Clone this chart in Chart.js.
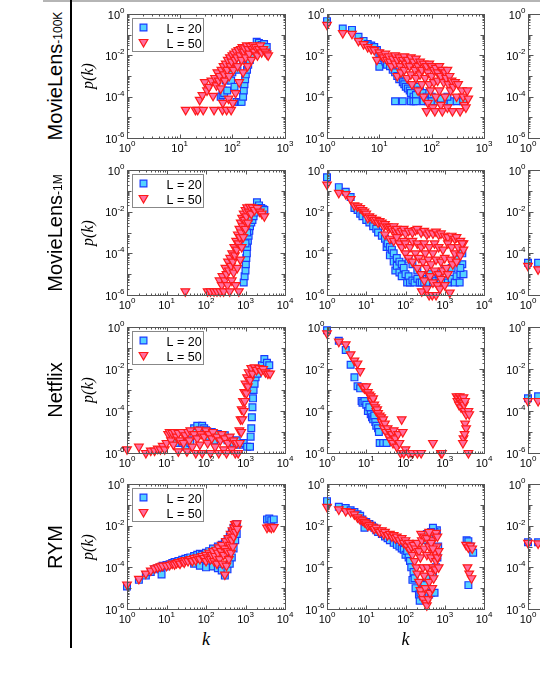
<!DOCTYPE html>
<html>
<head>
<meta charset="utf-8">
<script src="https://cdn.jsdelivr.net/npm/chart.js@4.4.1/dist/chart.umd.min.js"></script>
<style>
  html, body { margin: 0; padding: 0; background: #fff; }
  #fig { position: relative; width: 540px; height: 699px; overflow: hidden; }
  .rot { position: absolute; white-space: nowrap; line-height: 1; transform: translate(-50%, -50%) rotate(-90deg); }
  .row-name { font-family: Arial, "Liberation Sans", sans-serif; font-size: 20px; color: #000; }
  .row-name small { font-size: 12px; }
  .axis-title { font-family: "Times New Roman", "Liberation Serif", serif; font-style: italic; font-size: 16px; color: #000; }
</style>
</head>
<body>
<div id="fig"></div>
<script>
// Degree distributions p(k) for L = 20 and L = 50 as [k, p(k)]

// tick labels (powers of ten)
const xTickExps3 = [0, 1, 2, 3];
const xTickExps4 = [0, 1, 2, 3, 4];
const yTickExps = [0, -2, -4, -6];

const rowNames = [['MovieLens', '-100K'], ['MovieLens', '-1M'], ['Netflix', ''], ['RYM', '']];
const legendLabels = ['L = 20', 'L = 50'];

// MovieLens-100K
const ml100kUserL20 = [[60,1e-4],[65,1.2e-4],[66,2e-4],[70,1.5e-4],[75,6e-4],[80,2e-4],[85,1e-3],[90,1.5e-3],[95,6e-4],[100,1.5e-3],[105,5e-3],[110,3e-4],[120,8e-3],[120,5.6e-5],[125,2e-3],[135,5.6e-5],[140,1e-2],[145,5.6e-5],[150,5.6e-5],[160,1e-4],[160,6e-3],[165,2e-4],[170,4e-4],[175,7e-4],[180,1.2e-3],[180,1.5e-2],[190,2e-3],[200,3.5e-3],[200,2e-2],[215,6e-3],[230,1e-2],[250,1.6e-2],[270,2.5e-2],[290,4.5e-2],[320,4e-2],[360,3.2e-2],[400,3.5e-2],[450,2.5e-2]];
const ml100kUserL50 = [[13,2.3e-5],[20,2.3e-5],[22,2.3e-5],[24,7e-5],[27,1.2e-4],[28,2.3e-5],[30,5e-4],[33,2e-4],[36,3e-4],[40,6e-4],[43,1.1e-4],[45,2.3e-5],[47,8e-4],[50,3.5e-4],[52,1.5e-3],[55,6e-4],[58,1e-3],[60,2.5e-4],[62,2e-3],[65,2.3e-5],[66,5e-5],[68,3e-3],[70,1.2e-3],[72,6e-4],[75,4e-3],[78,2.3e-5],[80,2e-3],[82,6e-3],[85,8e-5],[87,1e-3],[90,8e-3],[92,3e-3],[95,2.3e-5],[97,5e-3],[100,1e-2],[102,5e-5],[105,2e-3],[108,1.2e-2],[112,6e-3],[115,1.5e-4],[118,1.5e-2],[122,8e-3],[126,3e-3],[130,1.8e-2],[135,5e-4],[140,1e-2],[145,2e-2],[150,6e-3],[155,2.5e-2],[160,1.5e-3],[165,1.5e-2],[172,2.2e-2],[180,8e-3],[188,3e-2],[195,3e-3],[200,2e-2],[210,1.2e-2],[220,2.8e-2],[230,6e-3],[240,2e-2],[250,3e-2],[265,1.5e-2],[280,2.5e-2],[300,1e-2],[320,2e-2],[340,3e-2],[360,1.4e-2],[390,2e-2],[420,1.5e-2],[450,1.2e-2],[480,1e-2]];
const ml100kItemL20 = [[1,0.45],[2,0.2],[3,0.17],[4,0.08],[5,0.05],[6,0.035],[7,0.03],[8,0.025],[9,0.018],[10,0.0028],[10,0.012],[11,0.009],[12,0.007],[13,0.005],[14,0.0035],[15,0.006],[16,0.003],[18,0.002],[20,0.0015],[22,0.001],[24,0.0007],[26,0.0012],[28,0.0005],[30,0.0004],[32,0.0003],[35,0.00025],[38,0.0002],[40,0.00015],[45,0.0001],[50,0.00012],[55,0.0003],[60,0.0002],[70,0.00015],[80,0.0001],[90,0.00015],[100,0.0001],[20,6e-5],[28,6e-5],[40,6e-5],[45,6e-5],[50,6e-5],[70,6e-5],[85,6e-5],[100,6e-5],[130,6e-5],[170,6e-5],[230,6e-5],[300,6e-5],[400,6e-5],[150,8e-5],[200,1e-4]];
const ml100kItemL50 = [[1,0.3],[2,0.12],[3,0.11],[4,0.05],[5,0.035],[6,0.025],[7,0.02],[8,0.018],[9,0.006],[10,0.014],[11,0.01],[12,0.008],[13,0.012],[14,0.006],[15,0.009],[16,0.005],[17,0.003],[18,0.007],[20,0.01],[20,0.004],[22,0.006],[22,0.001],[24,0.008],[25,0.003],[26,0.0015],[28,0.006],[30,0.009],[30,0.002],[32,0.004],[34,0.0008],[35,0.006],[38,0.003],[40,0.008],[40,0.0012],[42,0.0004],[45,0.005],[48,0.002],[50,0.0008],[50,0.007],[55,0.003],[55,0.0002],[60,0.005],[60,0.0012],[65,0.0004],[65,0.002],[70,0.004],[70,0.0001],[75,0.0008],[80,0.003],[80,2e-5],[85,0.0015],[85,5e-5],[90,0.004],[90,0.0004],[95,0.0002],[100,0.003],[100,0.001],[105,3e-5],[110,0.002],[110,0.0005],[115,2e-5],[120,0.0025],[120,0.0001],[130,0.0015],[130,0.0006],[140,0.003],[140,0.0002],[150,0.001],[150,4e-5],[160,0.002],[160,2e-5],[170,0.0005],[180,0.0015],[180,0.0001],[190,0.0008],[200,0.002],[200,3e-5],[210,0.0004],[220,0.001],[230,0.0002],[240,0.0006],[250,2e-5],[260,0.0003],[280,0.0005],[300,0.0001],[320,0.0004],[350,2e-5],[380,0.0002],[400,0.0001],[420,4e-5],[450,3e-5],[480,0.0002],[500,8e-5]];
const ml100kThirdL20 = [];
const ml100kThirdL50 = [];

// MovieLens-1M
const ml1mUserL20 = [[900,4e-6],[950,8e-6],[1000,1.5e-5],[1020,3e-5],[1050,6e-5],[1080,1e-4],[1100,2e-4],[1150,4e-4],[1200,7e-4],[1250,1.2e-3],[1300,2e-3],[1400,3e-3],[1500,4e-3],[1600,6e-3],[1700,9e-3],[1800,1.4e-2],[1950,2.8e-2],[2200,2e-2],[2500,1.5e-2],[2800,1.3e-2],[3000,1.2e-2],[1000,3e-4],[1100,1e-3],[1200,5e-3],[1000,2e-3]];
const ml1mUserL50 = [[30,1.5e-6],[110,1.5e-6],[130,1.5e-6],[160,1.5e-6],[190,1.5e-6],[220,5e-6],[230,1.5e-6],[250,3e-6],[260,8e-6],[280,1.5e-6],[300,5e-6],[310,2e-5],[330,1e-5],[350,3e-6],[360,4e-5],[380,1.5e-5],[400,1.5e-6],[410,6e-5],[430,2.5e-5],[450,5e-6],[460,1e-4],[480,4e-5],[500,1.2e-5],[520,2e-4],[540,8e-5],[560,3e-6],[580,4e-4],[600,1.5e-4],[620,2e-5],[640,8e-4],[660,3e-4],[680,1.5e-6],[700,1.5e-3],[720,6e-4],[740,5e-5],[760,3e-3],[780,1e-3],[800,2e-4],[820,5e-3],[850,2e-3],[880,6e-4],[900,8e-3],[950,4e-3],[1000,1.2e-2],[1000,1.5e-3],[1050,6e-3],[1100,1.6e-2],[1150,3e-3],[1200,1e-2],[1300,1.7e-2],[1400,8e-3],[1500,1.6e-2],[1700,1.2e-2],[2000,1.5e-2],[2300,1e-2],[2600,8e-3],[3000,6e-3]];
const ml1mItemL20 = [[1,0.45],[2,0.15],[3,0.09],[4,0.05],[5,0.015],[6,0.012],[7,0.008],[8,0.006],[10,0.004],[12,0.003],[15,0.002],[18,0.0015],[20,0.001],[25,0.0007],[30,0.0005],[33,0.0002],[35,0.0003],[40,0.0002],[40,8e-5],[45,0.00015],[50,0.0001],[50,4e-5],[55,1.5e-5],[60,6e-5],[60,2.5e-5],[70,4e-5],[70,1.2e-5],[80,3e-5],[80,8e-6],[90,2e-5],[100,1e-5],[110,4e-6],[120,8e-6],[130,4e-6],[150,5e-6],[170,4e-6],[200,6e-6],[230,4e-6],[260,4e-6],[300,4e-6],[350,6e-6],[400,4e-6],[500,4e-6],[600,5e-6],[700,4e-6],[800,4e-6],[1000,5e-6],[1200,4e-6],[1500,6e-6],[1800,4e-6],[2000,8e-6],[2400,4e-6],[2500,1e-5],[2800,3e-5],[3000,1e-5],[2800,1e-4],[2500,2e-5],[2000,5e-5],[1500,2e-5],[1000,1.5e-5],[700,1e-5],[400,1e-5],[200,1.5e-5],[150,3e-5],[120,5e-5]];
const ml1mItemL50 = [[1,0.2],[2,0.08],[3,0.07],[4,0.04],[5,0.02],[6,0.018],[7,0.015],[8,0.012],[9,0.01],[10,0.008],[11,0.005],[12,0.006],[14,0.005],[16,0.004],[18,0.004],[20,0.003],[22,0.0035],[25,0.003],[28,0.002],[30,0.0025],[35,0.002],[40,0.0018],[45,0.0015],[50,0.002],[55,0.0012],[60,0.0015],[70,0.001],[80,0.0012],[90,0.0015],[100,0.0009],[120,0.0012],[150,0.001],[180,0.0013],[200,0.0015],[250,0.001],[300,0.0012],[350,0.0008],[400,0.001],[500,0.0009],[600,0.0011],[700,0.0008],[800,0.0009],[1000,0.0007],[1200,0.0006],[1500,0.0007],[1800,0.0005],[2000,0.0006],[2500,0.0004],[3000,0.0003],[30,0.0008],[40,0.0005],[50,0.0004],[60,0.0006],[70,0.0003],[80,0.0002],[90,0.0004],[100,0.0003],[100,0.0001],[120,6e-5],[130,0.0002],[150,0.0004],[150,4e-5],[180,0.0001],[200,2e-5],[200,0.0003],[220,6e-5],[250,1e-5],[260,1.5e-6],[250,0.0002],[280,4e-5],[300,5e-6],[300,0.0003],[320,1e-4],[350,2e-6],[350,2e-5],[380,5e-5],[400,1e-6],[400,0.0002],[420,8e-6],[450,3e-5],[480,1e-6],[500,1e-4],[500,4e-6],[550,0.0003],[550,1.5e-5],[600,1e-6],[600,5e-5],[650,3e-6],[700,0.0002],[700,1e-5],[750,2e-6],[800,4e-5],[800,6e-6],[900,1.5e-4],[900,1.5e-5],[1000,3e-6],[1000,6e-5],[1100,2e-5],[1200,0.0003],[1200,1e-5],[1350,1.3e-6],[1400,5e-5],[1500,0.0002],[1600,3e-5],[1800,0.0001],[2000,4e-5],[2200,0.0002],[2500,8e-5],[2800,0.0003],[3000,0.00015]];
const ml1mThirdL20 = [[1,3.5e-5],[1.8,3.5e-5]];
const ml1mThirdL50 = [[1,2.5e-5],[1.8,1.7e-5]];

// Netflix
const netflixUserL20 = [[18,3e-6],[25,3e-6],[30,2e-6],[35,4e-6],[40,3e-6],[50,1.5e-5],[55,1e-5],[60,2e-5],[70,1.2e-5],[80,2e-5],[90,1.5e-5],[100,1.2e-5],[120,6e-6],[140,1e-5],[160,4e-6],[200,8e-6],[250,5e-6],[300,7e-6],[350,4e-6],[400,5e-6],[500,3e-6],[600,4e-6],[700,2.5e-6],[900,3e-6],[1100,2e-6],[1300,2e-6],[1350,6e-6],[1400,1.5e-5],[1450,5e-5],[1500,1.5e-4],[1550,4e-4],[1600,1e-3],[1700,2e-3],[1800,4e-3],[2000,6e-3],[2300,1e-2],[2600,1.5e-2],[3000,3e-2],[3500,2e-2],[4000,1.5e-2]];
const netflixUserL50 = [[1,1.5e-6],[2,2e-6],[3,1e-6],[4,1.3e-6],[5,1.3e-6],[6,1.6e-6],[7,1.5e-6],[8,2.2e-6],[9,1.5e-6],[10,3e-6],[11,8e-6],[12,1e-5],[13,4e-6],[14,9e-6],[15,2.5e-6],[16,1e-5],[18,6e-6],[20,1.2e-6],[20,9e-6],[22,4e-6],[25,1e-5],[27,3e-6],[30,7e-6],[33,1.2e-6],[35,1e-5],[38,4e-6],[40,1.2e-5],[45,2e-6],[50,8e-6],[55,1e-6],[60,5e-6],[65,1.3e-5],[70,2.5e-6],[75,8e-6],[80,1e-6],[90,6e-6],[100,1.2e-5],[110,3e-6],[120,8e-6],[130,1e-6],[140,5e-6],[150,1e-5],[170,2e-6],[190,6e-6],[210,1e-6],[230,4e-6],[250,8e-6],[280,1.5e-6],[300,5e-6],[330,1e-6],[360,3e-6],[400,6e-6],[450,1.5e-6],[500,4e-6],[550,1e-6],[600,3e-6],[650,1e-6],[700,1.2e-5],[720,3e-6],[750,4e-5],[780,1e-5],[800,1.2e-4],[830,4e-5],[860,3e-4],[900,1e-4],[930,8e-4],[960,3e-4],[1000,2e-3],[1050,7e-4],[1100,4e-3],[1150,1.5e-3],[1200,7e-3],[1300,3e-3],[1400,1.1e-2],[1500,6e-3],[1700,1.2e-2],[1900,9e-3],[2200,1.1e-2],[2500,8e-3],[2800,1e-2],[3200,7e-3],[3700,6e-3],[4200,6e-3]];
const netflixItemL20 = [[1,0.7],[2,0.22],[3,0.08],[4,0.016],[5,0.004],[6,0.0015],[7,0.0012],[7.6,0.0003],[8,0.00025],[9,0.0003],[10,0.0002],[11,0.0001],[12,0.00015],[13,7e-5],[14,5e-5],[15,4e-5],[16,6e-5],[17,3e-5],[18,2e-5],[20,1.5e-5],[21,1e-5],[22,3e-6],[27,3e-6],[33,3e-6]];
const netflixItemL50 = [[1,0.5],[2,0.2],[3,0.15],[4,0.05],[5,0.025],[6,0.018],[7,0.008],[8,0.0015],[9,0.0012],[10,0.0015],[11,0.0008],[12,0.0006],[13,0.0005],[14,0.0003],[15,0.0004],[16,0.0002],[17,0.00015],[18,0.0001],[19,0.00012],[20,8e-5],[22,6e-5],[24,5e-5],[25,3e-5],[27,4e-5],[28,1.5e-5],[30,2.5e-5],[32,1e-5],[35,1.5e-5],[38,6e-6],[40,1e-5],[42,4e-6],[45,8e-6],[48,3e-6],[50,1.2e-5],[55,5e-6],[60,2e-6],[65,8e-6],[70,3e-6],[75,1e-6],[80,4e-5],[85,1e-5],[90,1e-6],[100,1.5e-6],[120,1e-6],[150,1e-6],[200,1e-6],[250,1e-6],[500,3e-6],[800,1e-6],[850,1e-6],[2000,5e-4],[2100,3e-4],[2200,4e-4],[2300,2e-4],[2400,5e-4],[2500,3e-4],[2600,1.5e-4],[2700,4e-4],[2800,2.5e-4],[3000,4.5e-4],[3100,2e-4],[3200,1e-4],[3300,3e-4],[3500,7e-5],[4000,1e-4],[4200,7e-5],[3300,2.5e-5],[3500,1.5e-5],[3000,5e-6],[2900,3e-6],[3200,8e-6],[4000,1e-6]];
const netflixThirdL20 = [[1,4e-4],[1.8,5e-4]];
const netflixThirdL50 = [[1,3e-4],[1.8,3e-4]];

// RYM
const rymUserL20 = [[1,1.2e-5],[2,2.5e-5],[3,4e-5],[4,6e-5],[5,8e-5],[6,9e-5],[7,1e-4],[7.5,4.5e-5],[8,1.2e-4],[9,1.1e-4],[10,1.3e-4],[12,1.4e-4],[14,1.6e-4],[16,1.8e-4],[18,1.7e-4],[20,2e-4],[25,2.3e-4],[30,2.6e-4],[35,2.8e-4],[40,3e-4],[50,3.5e-4],[60,4e-4],[70,4.5e-4],[80,4e-4],[100,5e-4],[120,6e-4],[150,8e-4],[200,1e-3],[250,1.2e-3],[300,1.5e-3],[350,2e-3],[400,3e-3],[450,5e-3],[500,8e-3],[550,1e-2],[600,1.2e-2],[50,1.5e-4],[70,1.2e-4],[100,1e-4],[150,1.1e-4],[200,9e-5],[250,7e-5],[300,4e-5],[350,8e-5],[400,1.5e-4],[450,3e-4],[500,8e-4],[550,2e-3],[600,4e-3],[3500,2e-2],[4000,2.2e-2],[4500,1.8e-2],[5200,2e-2]];
const rymUserL50 = [[1,1.5e-5],[2,2.8e-5],[3,5e-5],[4,7e-5],[5,9e-5],[6,1e-4],[7,1.1e-4],[8,1.2e-4],[10,1.2e-4],[12,1.3e-4],[14,1.5e-4],[16,1.4e-4],[18,1.6e-4],[20,1.8e-4],[22,1.5e-4],[25,2e-4],[28,1.7e-4],[30,2.2e-4],[35,2e-4],[40,2.5e-4],[45,2e-4],[50,2.8e-4],[55,2.2e-4],[60,3e-4],[70,2.5e-4],[80,3.5e-4],[90,2.8e-4],[100,4e-4],[100,2e-4],[110,3e-4],[120,5e-4],[130,2.5e-4],[140,4e-4],[150,6e-4],[160,2e-4],[170,3.5e-4],[180,7e-4],[190,1.5e-4],[200,5e-4],[210,9e-4],[220,2.5e-4],[240,6e-4],[250,1.2e-3],[260,1.5e-4],[280,4e-4],[300,8e-4],[300,4.5e-5],[320,1.8e-3],[330,1.2e-4],[350,6e-4],[370,2.5e-3],[380,2.5e-4],[400,1.2e-3],[420,4e-3],[430,5e-4],[450,2e-3],[470,6e-3],[480,1e-3],[500,3e-3],[520,8e-3],[540,1.2e-2],[560,5e-3],[580,1e-2],[600,1.3e-2],[620,7e-3],[3500,8e-3],[4000,9e-3],[4500,8e-3],[5200,8.5e-3]];
const rymItemL20 = [[1,0.15],[2,0.08],[3,0.07],[4,0.055],[5,0.045],[6,0.035],[7,0.03],[8,0.02],[9,0.008],[10,0.015],[12,0.012],[14,0.01],[16,0.008],[18,0.006],[20,0.005],[25,0.004],[30,0.003],[35,0.0025],[40,0.002],[50,0.0015],[60,0.0012],[70,0.001],[80,0.0008],[90,0.0007],[100,0.0004],[110,0.0006],[120,0.0003],[130,0.0002],[140,0.0001],[150,2.5e-5],[160,6e-5],[170,3e-5],[180,1e-5],[230,2.5e-6],[220,5e-6],[240,6e-6],[260,8e-6],[280,4e-6],[300,1.5e-5],[350,3e-5],[400,5e-6],[450,6e-6],[500,4e-5],[550,6e-6],[600,1e-4],[650,3e-4],[680,1e-3],[630,6e-3],[550,5e-3],[500,8e-3],[450,5e-3],[400,3e-3],[350,4e-3],[300,2e-3],[3600,2e-3],[4000,1.8e-3],[4500,1e-3],[5300,5e-4],[4000,1.4e-5]];
const rymItemL50 = [[1,0.08],[2,0.06],[3,0.05],[4,0.045],[5,0.035],[6,0.025],[7,0.02],[8,0.018],[9,0.015],[10,0.013],[11,0.01],[12,0.011],[14,0.009],[16,0.007],[18,0.008],[20,0.006],[22,0.005],[25,0.006],[28,0.004],[30,0.005],[35,0.0035],[40,0.004],[45,0.003],[50,0.0035],[55,0.0025],[60,0.003],[70,0.002],[80,0.0025],[90,0.0015],[100,0.002],[110,0.001],[120,0.0015],[130,0.0007],[140,0.001],[150,0.0004],[160,0.0012],[170,0.0002],[180,0.0008],[190,0.0001],[200,0.0015],[200,5e-5],[220,0.0006],[220,2e-5],[240,0.0003],[240,8e-6],[260,0.002],[260,5e-6],[280,0.0001],[280,3e-6],[300,0.0008],[300,4e-5],[320,1e-5],[340,2e-6],[350,0.0004],[350,1.5e-6],[360,1e-4],[380,3e-6],[400,0.001],[400,2e-5],[420,6e-6],[450,0.0003],[450,5e-5],[480,1e-5],[500,0.002],[500,0.0001],[520,3e-5],[550,0.004],[550,0.0005],[580,8e-5],[600,0.0045],[600,0.0002],[620,0.001],[650,0.0003],[650,0.003],[700,0.0006],[700,0.0001],[250,0.004],[300,0.003],[350,0.0025],[400,0.005],[450,0.0015],[500,0.0008],[3500,1.2e-3],[4000,9e-4],[4500,1.1e-3],[5000,8e-4],[3800,1e-4],[4200,5e-5],[4800,3e-5]];
const rymThirdL20 = [[1,1.6e-3],[1.8,1.6e-3]];
const rymThirdL50 = [[1,1.5e-3],[1.8,1.4e-3]];

// marker colours
const BLUE_LINE = '#1a3cff';
const BLUE_FILL = '#55d2ff';
const RED_LINE = '#ff1a1a';
const RED_FILL = '#ff6fa0';
const FRAME = '#555';

const fig = document.getElementById('fig');
const toXY = arr => arr.map(([x, y]) => ({ x, y }));

// draws 10^exp label; align = 'right' or 'center'
function drawPow(ctx, exp, x, y, align) {
    ctx.font = '11px Arial, "Liberation Sans", sans-serif';
    const wBase = ctx.measureText('10').width;
    ctx.font = '8px Arial, "Liberation Sans", sans-serif';
    const expText = String(exp);
    const wExp = ctx.measureText(expText).width;
    const total = wBase + wExp;
    const x0 = align === 'right' ? x - total : x - total / 2;
    ctx.textAlign = 'left';
    ctx.textBaseline = 'alphabetic';
    ctx.font = '11px Arial, "Liberation Sans", sans-serif';
    ctx.fillText('10', x0, y);
    ctx.font = '8px Arial, "Liberation Sans", sans-serif';
    ctx.fillText(expText, x0 + wBase, y - 5.5);
}

function drawSquare(ctx, x, y, half) {
    ctx.beginPath();
    ctx.rect(x - half, y - half, 2 * half, 2 * half);
    ctx.fillStyle = BLUE_FILL; ctx.fill();
    ctx.strokeStyle = BLUE_LINE; ctx.lineWidth = 1.2; ctx.stroke();
}

function drawTriangle(ctx, x, y, r) {
    ctx.beginPath();
    ctx.moveTo(x, y + r);
    ctx.lineTo(x - r * 0.866, y - r / 2);
    ctx.lineTo(x + r * 0.866, y - r / 2);
    ctx.closePath();
    ctx.fillStyle = RED_FILL; ctx.fill();
    ctx.strokeStyle = RED_LINE; ctx.lineWidth = 1.2; ctx.stroke();
}

// frame, inward ticks on all four sides, power-of-ten labels and legend
const framePlugin = {
    id: 'frame',
    afterDatasetsDraw(chart, args, opts) {
        const { ctx, chartArea: a, scales: { x, y } } = chart;
        ctx.save();
        ctx.strokeStyle = FRAME;
        ctx.lineWidth = 1;
        const L = Math.round(a.left) + 0.5, R = Math.round(a.right) + 0.5;
        const T = Math.round(a.top) + 0.5, B = Math.round(a.bottom) + 0.5;
        ctx.strokeRect(L, T, R - L, B - T);

        const seg = (x1, y1, x2, y2) => { ctx.beginPath(); ctx.moveTo(x1, y1); ctx.lineTo(x2, y2); ctx.stroke(); };

        // x ticks
        const xMaxExp = Math.round(Math.log10(x.max));
        for (let e = 0; e <= xMaxExp; e++) {
            for (let m = 1; m < 10; m++) {
                const v = m * Math.pow(10, e);
                if (v > x.max) break;
                const px = Math.round(x.getPixelForValue(v)) + 0.5;
                const len = m === 1 ? 4 : 2;
                seg(px, B, px, B - len);
                seg(px, T, px, T + len);
            }
        }
        // y ticks
        for (let e = -6; e <= 0; e++) {
            for (let m = 1; m < 10; m++) {
                const v = m * Math.pow(10, e);
                if (v > 1) break;
                const py = Math.round(y.getPixelForValue(v)) + 0.5;
                const len = m === 1 ? (e % 2 === 0 ? 5 : 4) : 2;
                seg(L, py, L + len, py);
                seg(R, py, R - len, py);
            }
        }

        ctx.fillStyle = '#000';
        opts.xTicks.forEach(e => drawPow(ctx, e, x.getPixelForValue(Math.pow(10, e)), B + 13, 'center'));
        yTickExps.forEach(e => drawPow(ctx, e, L - 3, y.getPixelForValue(Math.pow(10, e)) + 4.5, 'right'));

        if (opts.legend) {
            const lx = L + 4, ly = T + 3;
            ctx.strokeStyle = '#888';
            ctx.lineWidth = 1;
            ctx.strokeRect(Math.round(lx) + 0.5, Math.round(ly) + 0.5, 71, 33);
            drawSquare(ctx, lx + 12, ly + 10, 3.4);
            drawTriangle(ctx, lx + 12, ly + 24.5, 5);
            ctx.fillStyle = '#000';
            ctx.font = '12.5px Arial, "Liberation Sans", sans-serif';
            ctx.textAlign = 'left';
            ctx.textBaseline = 'alphabetic';
            ctx.fillText(legendLabels[0], lx + 35, ly + 15);
            ctx.fillText(legendLabels[1], lx + 35, ly + 30.5);
        }
        ctx.restore();
    }
};

function makePanel(left, top, width, height, xMax, xTicks, l20, l50, legend) {
    const m = { l: 48, t: 10, r: 10, b: 20 };
    const canvas = document.createElement('canvas');
    canvas.width = width + m.l + m.r;
    canvas.height = height + m.t + m.b;
    canvas.style.cssText = `position:absolute;left:${left - m.l}px;top:${top - m.t}px;`;
    fig.appendChild(canvas);

    new Chart(canvas, {
        type: 'scatter',
        data: {
            datasets: [
                {
                    label: legendLabels[1],
                    data: toXY(l50),
                    pointStyle: 'triangle',
                    rotation: 180,
                    radius: 5,
                    backgroundColor: RED_FILL,
                    borderColor: RED_LINE,
                    borderWidth: 1.2,
                    clip: false
                },
                {
                    label: legendLabels[0],
                    data: toXY(l20),
                    pointStyle: 'rect',
                    radius: 4.8,
                    backgroundColor: BLUE_FILL,
                    borderColor: BLUE_LINE,
                    borderWidth: 1.2,
                    clip: false
                }
            ]
        },
        options: {
            responsive: false,
            animation: false,
            devicePixelRatio: 1,
            events: [],
            layout: { padding: { left: m.l, top: m.t, right: m.r, bottom: m.b } },
            scales: {
                x: { type: 'logarithmic', min: 1, max: xMax, display: false },
                y: { type: 'logarithmic', min: 1e-6, max: 1, display: false }
            },
            plugins: {
                legend: { display: false },
                tooltip: { enabled: false },
                frame: { legend, xTicks }
            }
        },
        plugins: [framePlugin]
    });
}

// panel positions
const colLeft = [127, 327, 528];
const colWidth = [158, 157, 158];
const rowTop = [14, 170, 327, 484];
const rowHeight = [124, 125, 126, 125];

const panels = [
    [ml100kUserL20, ml100kUserL50, ml100kItemL20, ml100kItemL50, ml100kThirdL20, ml100kThirdL50, 1e3, xTickExps3],
    [ml1mUserL20, ml1mUserL50, ml1mItemL20, ml1mItemL50, ml1mThirdL20, ml1mThirdL50, 1e4, xTickExps4],
    [netflixUserL20, netflixUserL50, netflixItemL20, netflixItemL50, netflixThirdL20, netflixThirdL50, 1e4, xTickExps4],
    [rymUserL20, rymUserL50, rymItemL20, rymItemL50, rymThirdL20, rymThirdL50, 1e4, xTickExps4]
];

panels.forEach((p, r) => {
    const [a20, a50, b20, b50, c20, c50, xMax, xTicks] = p;
    makePanel(colLeft[0], rowTop[r], colWidth[0], rowHeight[r], xMax, xTicks, a20, a50, true);
    makePanel(colLeft[1], rowTop[r], colWidth[1], rowHeight[r], xMax, xTicks, b20, b50, false);
    makePanel(colLeft[2], rowTop[r], colWidth[2], rowHeight[r], xMax, xTicks, c20, c50, false);
});

// separators
const topRule = document.createElement('div');
topRule.style.cssText = 'position:absolute;left:43px;top:0;width:497px;height:2px;background:#b5b5b5;';
fig.appendChild(topRule);
const sideRule = document.createElement('div');
sideRule.style.cssText = 'position:absolute;left:70px;top:0;width:2px;height:648px;background:#000;';
fig.appendChild(sideRule);

// row names, y titles and x titles
rowNames.forEach(([name, sub], r) => {
    const cy = rowTop[r] + rowHeight[r] / 2;
    const label = document.createElement('div');
    label.className = 'rot row-name';
    label.style.left = '54.5px';
    label.style.top = cy + 'px';
    label.innerHTML = sub ? `${name}<small>${sub}</small>` : name;
    fig.appendChild(label);

    const yt = document.createElement('div');
    yt.className = 'rot axis-title';
    yt.style.left = '88px';
    yt.style.top = cy + 'px';
    yt.textContent = 'p(k)';
    fig.appendChild(yt);
});

[0, 1].forEach(c => {
    const xt = document.createElement('div');
    xt.className = 'axis-title';
    xt.style.cssText = `position:absolute;left:${colLeft[c] + colWidth[c] / 2}px;top:639px;transform:translate(-50%,-50%);font-size:18px;line-height:1;`;
    xt.textContent = 'k';
    fig.appendChild(xt);
});
</script>
</body>
</html>
